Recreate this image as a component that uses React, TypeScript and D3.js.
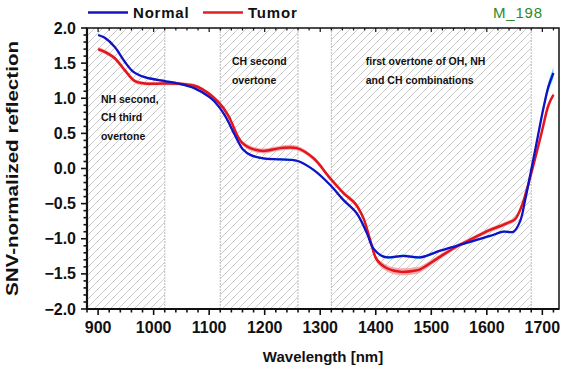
import React from "react";
import * as d3 from "d3";

const width = 574;
const height = 374;
const margin = { top: 28, right: 15, bottom: 65, left: 87 };

// Normal spectrum (wavelength nm, value, band half-width)
const normalNm = [900, 912, 930, 948, 963, 984, 1020, 1044, 1074, 1100, 1110, 1128, 1146, 1161, 1175, 1197, 1228, 1258, 1288, 1318, 1342, 1366, 1384, 1396, 1414, 1426, 1450, 1480, 1516, 1546, 1576, 1606, 1630, 1648, 1660, 1669, 1678, 1690, 1702, 1711, 1720];
const normalVal = [1.9, 1.86, 1.73, 1.52, 1.38, 1.3, 1.245, 1.21, 1.14, 1.02, 0.95, 0.76, 0.48, 0.27, 0.19, 0.145, 0.13, 0.11, -0.02, -0.235, -0.45, -0.64, -0.92, -1.14, -1.255, -1.265, -1.245, -1.265, -1.17, -1.1, -1.03, -0.96, -0.9, -0.9, -0.75, -0.45, -0.1, 0.38, 0.86, 1.165, 1.36];
const normalSd = [0.015, 0.015, 0.015, 0.015, 0.015, 0.015, 0.015, 0.015, 0.015, 0.015, 0.015, 0.015, 0.015, 0.015, 0.015, 0.015, 0.015, 0.015, 0.015, 0.015, 0.015, 0.015, 0.015, 0.015, 0.02, 0.02, 0.02, 0.02, 0.015, 0.015, 0.015, 0.015, 0.015, 0.015, 0.015, 0.02, 0.02, 0.03, 0.05, 0.07, 0.08];

// Tumor spectrum
const tumorNm = [900, 912, 930, 948, 966, 984, 1020, 1056, 1080, 1116, 1134, 1152, 1160, 1174, 1198, 1228, 1258, 1288, 1318, 1342, 1363, 1378, 1390, 1402, 1420, 1444, 1470, 1480, 1516, 1546, 1576, 1606, 1636, 1651, 1663, 1672, 1684, 1699, 1711, 1720];
const tumorVal = [1.7, 1.66, 1.57, 1.4, 1.245, 1.21, 1.21, 1.2, 1.16, 0.95, 0.76, 0.45, 0.36, 0.29, 0.25, 0.29, 0.29, 0.145, -0.14, -0.35, -0.5, -0.71, -1.02, -1.3, -1.42, -1.47, -1.455, -1.435, -1.255, -1.11, -0.99, -0.875, -0.78, -0.72, -0.53, -0.3, 0.05, 0.52, 0.9, 1.05];
const tumorSd = [0.03, 0.03, 0.03, 0.03, 0.03, 0.025, 0.025, 0.025, 0.025, 0.03, 0.03, 0.03, 0.03, 0.035, 0.035, 0.035, 0.035, 0.03, 0.03, 0.03, 0.03, 0.03, 0.035, 0.04, 0.045, 0.05, 0.05, 0.045, 0.035, 0.03, 0.03, 0.03, 0.03, 0.03, 0.03, 0.03, 0.03, 0.03, 0.03, 0.03];

// shaded absorption regions
const regionStart = [880, 1120, 1320];
const regionEnd = [1020, 1260, 1680];
const regionLabels = [
  ["NH second,", "CH third", "overtone"],
  ["CH second", "overtone"],
  ["first overtone of OH, NH", "and CH combinations"],
];

const xTicks = [900, 1000, 1100, 1200, 1300, 1400, 1500, 1600, 1700];
const yTicks = [-2, -1.5, -1, -0.5, 0, 0.5, 1, 1.5, 2];

const font = "Arial, 'Liberation Sans', sans-serif";

export default function App() {
  const iw = width - margin.left - margin.right;
  const ih = height - margin.top - margin.bottom;
  const x = d3.scaleLinear().domain([880, 1730]).range([0, iw]);
  const y = d3.scaleLinear().domain([-2, 2]).range([ih, 0]);

  const xMinor = d3.range(880, 1730, 20);
  const yMinor = d3.range(-20, 21).map((d) => d / 10);

  const mk = (nm: number[], v: number[], sd: number[]) =>
    nm.map((n, i) => ({ x: n, y: v[i], s: sd[i] }));
  const normal = mk(normalNm, normalVal, normalSd);
  const tumor = mk(tumorNm, tumorVal, tumorSd);

  const line = d3
    .line<any>()
    .x((d) => x(d.x))
    .y((d) => y(d.y))
    .curve(d3.curveCatmullRom);
  const band = d3
    .area<any>()
    .x((d) => x(d.x))
    .y0((d) => y(d.y - d.s))
    .y1((d) => y(d.y + d.s))
    .curve(d3.curveCatmullRom);

  // where each region's note starts (nm, value)
  const labelPos = [
    { x: 905, y: 0.99 },
    { x: 1141, y: 1.53 },
    { x: 1382, y: 1.53 },
  ];

  return (
    <svg width={width} height={height} style={{ position: "absolute", left: 0, top: 0, background: "#fff" }} fontFamily={font}>
      <defs>
        <pattern id="hatch" patternUnits="userSpaceOnUse" width="8" height="8">
          <path d="M-2,2 l4,-4 M0,8 l8,-8 M6,10 l4,-4" stroke="#c6c6c6" strokeWidth="0.9" />
        </pattern>
        <clipPath id="plot">
          <rect x={0} y={0} width={iw} height={ih} />
        </clipPath>
      </defs>

      {/* legend */}
      <g fontWeight="bold" fontSize="15" fill="#111">
        <line x1={88} x2={128} y1={12.5} y2={12.5} stroke="#1515c0" strokeWidth={2.5} />
        <text x={133} y={18} letterSpacing="0.8">Normal</text>
        <line x1={203} x2={243} y1={12.5} y2={12.5} stroke="#e02020" strokeWidth={2.5} />
        <text x={248} y={18} letterSpacing="0.8">Tumor</text>
      </g>
      <text x={493} y={18} fontSize="15" fill="#2b8a2b" letterSpacing="0.8">M_198</text>

      <g transform={`translate(${margin.left},${margin.top})`}>
        {regionStart.map((s, i) => (
          <g key={i}>
            <rect x={x(s)} y={0} width={x(regionEnd[i]) - x(s)} height={ih} fill="url(#hatch)" />
            <line x1={x(s)} x2={x(s)} y1={0} y2={ih} stroke="#bbb" strokeDasharray="2,1" />
            <line x1={x(regionEnd[i])} x2={x(regionEnd[i])} y1={0} y2={ih} stroke="#bbb" strokeDasharray="2,1" />
          </g>
        ))}

        {regionLabels.map((lines, i) => (
          <text key={i} fontSize="10.5" fontWeight="bold" fill="#111">
            {lines.map((l, j) => (
              <tspan key={j} x={x(labelPos[i].x)} y={y(labelPos[i].y) + 4 + j * 18.5}>
                {l}
              </tspan>
            ))}
          </text>
        ))}

        <g clipPath="url(#plot)">
          <path d={band(tumor) || ""} fill="#f29a9a" opacity={0.8} />
          <path d={band(normal) || ""} fill="#30d8f0" opacity={0.8} />
          <path d={line(tumor) || ""} fill="none" stroke="#e3161e" strokeWidth={2.5} />
          <path d={line(normal) || ""} fill="none" stroke="#1212c4" strokeWidth={2.3} />
        </g>

        {/* frame */}
        <rect x={0} y={0} width={iw} height={ih} fill="none" stroke="#111" strokeWidth={1.5} />
        <line x1={0} x2={0} y1={0} y2={ih + 1} stroke="#111" strokeWidth={2.2} />
        <line x1={0} x2={iw} y1={ih} y2={ih} stroke="#111" strokeWidth={2.2} />

        {/* x ticks */}
        {xMinor.map((t) => (
          <g key={t}>
            <line x1={x(t)} x2={x(t)} y1={ih} y2={ih + (xTicks.includes(t) ? 6 : 3.5)} stroke="#111" strokeWidth={1.6} />
            <line x1={x(t)} x2={x(t)} y1={0} y2={xTicks.includes(t) ? 4 : 2.5} stroke="#111" strokeWidth={1.2} />
          </g>
        ))}
        {xTicks.map((t) => (
          <text key={t} x={x(t)} y={ih + 24} textAnchor="middle" fontSize="16" fontWeight="bold" fill="#111">
            {t}
          </text>
        ))}

        {/* y ticks */}
        {yMinor.map((t) => (
          <line key={t} x1={0} x2={Number.isInteger(t * 2) ? -6 : -3.5} y1={y(t)} y2={y(t)} stroke="#111" strokeWidth={1.6} />
        ))}
        {yTicks.map((t) => (
          <text key={t} x={-11} y={y(t) + 5.5} textAnchor="end" fontSize="16" fontWeight="bold" fill="#111">
            {d3.format(".1f")(t)}
          </text>
        ))}
      </g>

      <text x={323} y={362} textAnchor="middle" fontSize="15" fontWeight="bold" fill="#111">
        Wavelength [nm]
      </text>
      <text
        transform={`translate(18,${margin.top + ih / 2}) rotate(-90)`}
        textAnchor="middle"
        fontSize="16"
        fontWeight="bold"
        fill="#111"
        textLength={255}
        lengthAdjust="spacingAndGlyphs"
      >
        SNV-normalized reflection
      </text>
    </svg>
  );
}
